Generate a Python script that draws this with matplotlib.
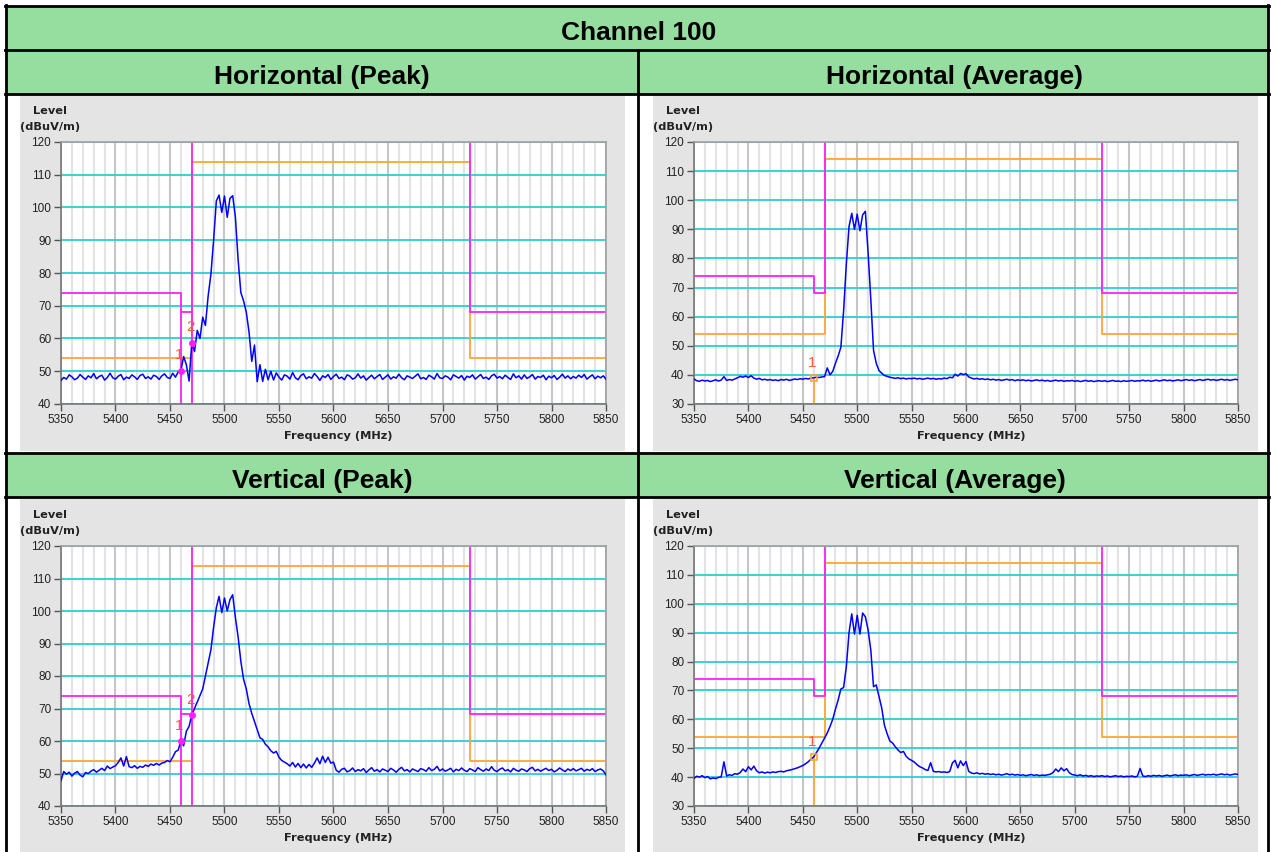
import matplotlib.pyplot as plt
import matplotlib.patches as mpatches
import numpy as np

W, H = 1271, 852

header = 'Channel 100'
titles = ['Horizontal (Peak)', 'Horizontal (Average)', 'Vertical (Peak)', 'Vertical (Average)']

# sweep points, 2.5 MHz apart
freq = np.linspace(5350, 5850, 201)

h_peak = [
    47.2, 48.1, 47.6, 48.9, 48.3, 47.4, 47.9, 49.0, 48.2, 47.5,
    48.6, 48.0, 49.3, 47.7, 48.4, 48.8, 47.3, 48.1, 49.4, 48.0,
    47.6, 48.5, 49.0, 47.4, 48.2, 47.8, 48.9, 48.3, 47.5, 48.7,
    49.1, 47.8, 48.3, 47.6, 48.8, 48.4, 47.5, 48.6, 49.2, 48.1,
    47.8, 49.4, 48.2, 49.8, 50.2, 54.5, 52.0, 47.0, 58.7, 56.0,
    62.5, 60.0, 66.5, 64.0, 73.0, 79.5, 90.0, 102.0, 103.8, 98.5,
    103.5, 97.0, 102.8, 103.6, 97.0, 84.0, 74.0, 71.5, 68.0, 62.0,
    53.0, 58.0, 46.8, 52.0, 46.9, 50.6, 47.4, 50.0, 47.3, 49.5,
    48.2, 47.3, 48.9, 48.5, 47.6, 49.6, 48.0, 47.4, 48.7, 49.2,
    47.7, 48.3, 47.9, 49.3, 48.4, 47.2, 48.6, 48.1, 49.0, 47.5,
    48.4, 49.1, 47.8, 48.2, 47.4, 48.9, 48.5, 47.6, 48.0, 49.2,
    47.9, 48.6, 47.3, 48.1, 48.8, 47.7, 48.4, 49.0, 47.5, 48.2,
    48.9, 47.6, 48.3, 47.9, 49.1, 48.0, 47.4, 48.6, 48.2, 47.8,
    48.5, 49.2, 47.7, 48.1, 47.5, 48.8, 48.3, 47.6, 49.3, 48.0,
    47.8, 48.6, 48.2, 47.4, 48.9, 48.4, 47.9, 48.7, 47.3, 48.5,
    48.1, 48.9, 47.6, 48.3, 49.0, 47.8, 48.2, 47.5, 48.6, 49.1,
    47.9, 48.4, 47.7, 48.8, 48.1, 47.5, 49.2, 48.0, 48.6, 47.6,
    48.9, 47.8, 48.3, 49.0, 47.6, 48.4, 48.1, 48.8, 47.4, 48.5,
    48.0, 48.7, 47.5, 48.2, 49.1, 47.9, 48.6, 47.7, 48.4, 47.9,
    48.8, 48.1, 49.0, 47.6, 48.3, 48.9, 47.7, 48.5, 48.0, 48.6,
    47.6,
]

h_avg = [
    38.6, 38.0, 37.8, 38.2, 37.9, 38.1, 37.7, 38.0, 38.3, 37.9,
    38.2, 39.4, 38.1, 38.4, 38.2, 38.6, 39.0, 39.5, 39.2, 39.6,
    39.1, 39.7, 38.9, 38.5, 38.8, 38.3, 38.5, 38.2, 38.4, 38.1,
    38.3, 38.0, 38.4, 38.2, 38.5, 38.1, 38.3, 38.6, 38.4, 38.7,
    38.5, 38.8, 38.6, 38.9, 39.0, 39.2, 39.1, 39.3, 39.4, 42.4,
    40.0, 41.2, 44.0, 46.5, 49.5, 62.0, 78.0, 91.0, 95.5, 90.0,
    95.2, 89.5, 95.0, 96.2, 82.0, 66.0, 48.5, 44.0, 41.5, 40.6,
    39.8, 39.5, 39.2, 39.0, 38.8, 39.0, 38.7, 38.9, 38.6, 38.8,
    38.7, 38.9, 38.6, 38.8, 38.5, 38.7, 38.9, 38.6, 38.8, 38.5,
    38.7, 38.6, 38.9, 38.7, 39.2, 39.0, 40.2, 39.6, 40.5, 40.1,
    40.4, 39.3, 38.9, 38.6, 38.8, 38.5, 38.7, 38.4, 38.6, 38.3,
    38.5, 38.2, 38.4, 38.1, 38.3, 38.5, 38.2, 38.4, 38.0, 38.3,
    38.1, 38.3, 38.0, 38.2, 37.9, 38.1, 38.3, 38.0, 38.2, 37.9,
    38.1, 37.8, 38.0, 38.2, 37.9, 38.1, 37.8, 38.0, 37.9, 38.1,
    37.8, 38.0, 37.7, 37.9, 38.1, 37.8, 38.0, 37.7, 37.9, 38.0,
    37.8, 38.0, 37.7, 37.9, 38.1, 37.8, 37.9, 37.7, 38.0, 37.8,
    37.9, 38.1, 37.8, 38.0, 37.9, 38.2, 37.9, 38.1, 37.8, 38.0,
    38.2, 37.9, 38.1, 38.3, 38.0, 38.2, 37.9, 38.1, 38.3, 38.0,
    38.2, 38.4, 38.1, 38.3, 38.0, 38.2, 38.4, 38.1, 38.3, 38.5,
    38.2, 38.4, 38.1, 38.3, 38.5, 38.2, 38.4, 38.1, 38.3, 38.5,
    38.3,
]

v_peak = [
    47.8, 50.6, 49.8, 50.4, 49.2, 50.1, 50.6, 49.5, 49.0, 50.3,
    50.0, 50.7, 51.2, 50.4, 51.0, 51.6, 50.9, 52.3, 51.5, 52.0,
    52.4, 53.4, 54.8, 52.3, 55.2, 52.1, 51.8, 52.4, 51.6, 52.2,
    51.9, 52.6, 52.2, 52.9, 52.5, 53.1, 52.6, 53.2, 53.4, 54.0,
    53.6, 55.0, 56.7, 57.2, 60.0, 58.5, 63.0, 64.5, 68.0, 70.0,
    72.0, 74.0, 76.0, 80.0, 84.0, 88.0, 95.0, 101.0, 104.5, 99.5,
    104.0, 100.0, 103.5, 105.0, 98.0, 92.0, 84.5, 79.0, 76.0, 71.5,
    68.5, 66.0, 63.5, 61.0, 60.5, 59.0, 58.2, 57.0, 56.3, 56.8,
    55.0, 54.0, 53.5, 53.0, 52.3, 53.4, 52.0, 53.1, 51.8, 52.9,
    51.7, 52.8, 51.9, 53.2, 54.8, 53.0, 55.3, 53.4, 55.0, 53.2,
    53.5, 51.0, 50.4, 51.3, 51.6, 50.5, 50.9, 51.7, 50.6, 51.2,
    50.8, 51.5, 50.3, 51.1, 51.8, 50.7, 51.2, 50.5, 51.4, 51.0,
    50.6, 51.6, 51.1, 50.4, 51.3, 51.9, 50.8, 51.2, 50.5, 51.4,
    51.0, 50.6, 51.5, 51.2, 50.7, 51.8, 50.9, 51.3, 52.2, 50.8,
    51.4, 50.7, 51.1, 51.6, 50.5, 51.3, 50.9, 51.7, 51.0, 50.6,
    51.5, 51.1, 50.6, 51.8, 51.2, 50.7, 51.4, 50.9, 52.1, 51.0,
    50.6, 51.3, 51.7, 50.8, 51.2, 50.5, 51.6, 51.0, 50.7, 51.4,
    51.1, 50.6, 51.5, 51.9, 50.8, 51.3, 50.7, 51.2, 51.6, 50.9,
    51.3, 50.5, 51.0, 51.7, 51.1, 50.6, 51.4, 50.9, 51.5, 50.8,
    51.2, 51.6, 50.7, 51.3, 50.9, 51.5, 50.6, 51.1, 51.4, 50.8,
    49.6,
]

v_avg = [
    39.6, 40.3, 40.0, 40.5, 39.8, 40.2, 39.4, 39.7, 39.5, 39.9,
    40.1, 45.3, 40.4, 40.8, 40.6, 41.2, 41.0, 41.6, 42.8, 41.9,
    43.6, 42.5, 43.8, 42.2, 41.5, 41.8, 41.4, 41.7, 41.5, 41.8,
    41.6, 41.9, 42.0, 41.8, 42.2, 42.4, 42.6, 42.9, 43.2, 43.6,
    44.0, 44.6, 45.3, 46.2, 47.0, 48.5, 50.0, 51.8, 53.5, 55.3,
    57.5, 60.0, 63.5, 66.7, 70.5, 71.0, 78.2, 90.0, 96.5, 89.5,
    96.0, 89.5, 96.8, 95.5, 91.0, 84.0, 71.3, 71.9, 68.0, 64.0,
    58.0, 55.0, 52.5, 51.8, 50.5, 49.4, 48.5, 48.9, 47.2, 46.3,
    45.8, 45.2, 44.3, 43.6, 43.2, 42.6, 42.3, 45.0, 42.0, 41.8,
    41.9, 41.7, 41.8, 41.6, 41.9, 44.9, 45.8, 43.2, 45.6, 44.0,
    45.4, 42.0, 41.4, 41.2, 41.5, 41.1, 41.3, 41.0, 41.2, 40.9,
    41.1, 40.8, 41.0, 40.7, 40.9, 41.2, 40.8, 41.0, 40.7, 40.9,
    40.6, 40.8, 40.5, 40.7, 40.9, 40.6, 40.8, 40.5, 40.7, 40.6,
    40.8, 41.0, 41.6, 42.8, 41.9, 43.2, 42.2, 42.9, 41.5, 40.9,
    40.7, 40.5, 40.8, 40.4, 40.6, 40.3, 40.5, 40.2, 40.4, 40.3,
    40.5, 40.2, 40.4, 40.1, 40.3, 40.5, 40.2, 40.4, 40.1, 40.3,
    40.2, 40.4, 40.1, 40.3, 43.0, 40.4, 40.2, 40.5, 40.3, 40.6,
    40.4, 40.6, 40.3, 40.5, 40.7, 40.4, 40.6, 40.8, 40.5, 40.7,
    40.6, 40.8, 40.5, 40.7, 40.9, 40.6, 40.8, 41.0, 40.7, 40.9,
    40.8, 41.0, 40.7, 40.9, 41.1, 40.8, 41.0, 40.7, 40.9, 41.1,
    40.9,
]

# limit lines
avg_lim_f = [5350, 5470, 5470, 5725, 5725, 5850]
avg_lim_v = [54, 54, 114, 114, 54, 54]
pk_lim_f1 = [5350, 5460, 5460, 5470, 5470]
pk_lim_v1 = [74, 74, 68.2, 68.2, 130]
pk_lim_f2 = [5725, 5725, 5850]
pk_lim_v2 = [130, 68.2, 68.2]

# markers
marker_f = [5460, 5470]
hp_marks = [50.2, 58.7]
ha_marks = [39.0]
vp_marks = [60.0, 68.0]
va_marks = [47.0]

traces = [h_peak, h_avg, v_peak, v_avg]
marks = [hp_marks, ha_marks, vp_marks, va_marks]
is_peak = [True, False, True, False]
ymins = [40, 30, 40, 30]

GREEN = '#95dea0'
PANEL = '#e4e4e4'
CYAN = '#2ccfd2'
MAG = '#ff20ff'
ORANGE = '#ffa534'
LABEL = '#ff5a3a'


def frac(x0, y0, x1, y1):
    return [x0 / W, 1 - y1 / H, (x1 - x0) / W, (y1 - y0) / H]


fig = plt.figure(figsize=(W / 100, H / 100), dpi=100)
fig.patch.set_facecolor('white')

bg = fig.add_axes([0, 0, 1, 1])
bg.set_xlim(0, W)
bg.set_ylim(H, 0)
bg.axis('off')

# table cells
for (x0, y0, x1, y1) in [(6, 6, 1268, 50), (6, 50, 1268, 94), (6, 453, 1268, 497)]:
    bg.add_patch(mpatches.Rectangle((x0, y0), x1 - x0, y1 - y0, facecolor=GREEN, edgecolor='none'))
for (x0, y0, x1, y1) in [(20, 96, 625, 451), (653, 96, 1258, 451), (20, 499, 625, 852), (653, 499, 1258, 852)]:
    bg.add_patch(mpatches.Rectangle((x0, y0), x1 - x0, y1 - y0, facecolor=PANEL, edgecolor='none'))
for y in [6, 50, 94, 453, 497]:
    bg.plot([5, 1269], [y, y], color='black', lw=2)
bg.plot([6, 6], [5, 852], color='black', lw=2)
bg.plot([1268, 1268], [5, 852], color='black', lw=2)
bg.plot([638, 638], [50, 852], color='black', lw=2)

bg.text(639, 33, header, ha='center', va='center', fontsize=19, fontweight='bold', family='Liberation Sans')
title_pos = [(322, 77), (955, 77), (322, 481), (955, 481)]
for t, (tx, ty) in zip(titles, title_pos):
    bg.text(tx, ty, t, ha='center', va='center', fontsize=19, fontweight='bold', family='Liberation Sans')

boxes = [(61, 142, 606, 404), (694, 142, 1238, 404), (61, 546, 606, 806), (694, 546, 1238, 806)]

for k, (x0, y0, x1, y1) in enumerate(boxes):
    ax = fig.add_axes(frac(x0, y0, x1, y1))
    ymin = ymins[k]
    ax.set_xlim(5350, 5850)
    ax.set_ylim(ymin, 120)
    ax.set_facecolor('white')
    ax.set_xticks(np.arange(5350, 5851, 50))
    ax.set_xticks(np.arange(5350, 5851, 10), minor=True)
    ax.set_yticks(np.arange(ymin, 121, 10))
    ax.grid(which='minor', axis='x', color='#e3e3e3', lw=1.5, zorder=0)
    ax.grid(which='major', axis='x', color='#c6c6c6', lw=1.5, zorder=0)
    ax.grid(which='major', axis='y', color=CYAN, lw=1.3, zorder=0)
    ax.set_axisbelow(True)
    ax.tick_params(which='minor', length=0)
    ax.tick_params(which='major', direction='out', length=5, width=1, color='#555555',
                   labelsize=8.5, labelcolor='#222222', pad=2)
    for lab in ax.get_xticklabels() + ax.get_yticklabels():
        lab.set_family('Liberation Sans')
    for s in ['left', 'bottom']:
        ax.spines[s].set_color('#777777')
        ax.spines[s].set_linewidth(1.2)
    for s in ['top', 'right']:
        ax.spines[s].set_color('#a0a0a0')
        ax.spines[s].set_linewidth(1.2)

    # limit lines
    ax.plot(avg_lim_f, avg_lim_v, color=ORANGE, lw=1.3, zorder=2)
    ax.plot(pk_lim_f1, pk_lim_v1, color=MAG, lw=1.3, zorder=2.2)
    ax.plot(pk_lim_f2, pk_lim_v2, color=MAG, lw=1.3, zorder=2.2)

    ax.plot(freq, traces[k], color='#0000ff', lw=1.1, zorder=3)

    mv = marks[k]
    if is_peak[k]:
        for f in marker_f:
            ax.plot([f, f], [ymin, 68.2], color=MAG, lw=1.3, zorder=2.2)
        ax.plot(marker_f[:len(mv)], mv, 'o', color=MAG, ms=4, zorder=4)
    else:
        ax.plot([marker_f[0], marker_f[0]], [ymin, mv[0]], color=ORANGE, lw=1.3, zorder=2.2)
        ax.plot(marker_f[:1], mv, 's', mfc='none', mec=ORANGE, ms=5, mew=1.2, zorder=4)
    for i, v in enumerate(mv):
        ax.annotate(str(i + 1), (marker_f[i], v), xytext=(-1, 11), textcoords='offset points',
                    ha='center', va='center', fontsize=11, color=LABEL, family='Liberation Sans',
                    zorder=5)

    lx = x0 - 11
    bg.text(lx, y0 - 30.5, 'Level', ha='center', va='center', fontsize=8.2, fontweight='bold',
            family='DejaVu Sans', color='#222222')
    bg.text(lx, y0 - 15, '(dBuV/m)', ha='center', va='center', fontsize=8.2, fontweight='bold',
            family='DejaVu Sans', color='#222222')
    bg.text((x0 + x1) / 2 + 5, y1 + 32, 'Frequency (MHz)', ha='center', va='center', fontsize=8.2,
            fontweight='bold', family='DejaVu Sans', color='#222222')

fig.savefig('out.png', dpi=100)
